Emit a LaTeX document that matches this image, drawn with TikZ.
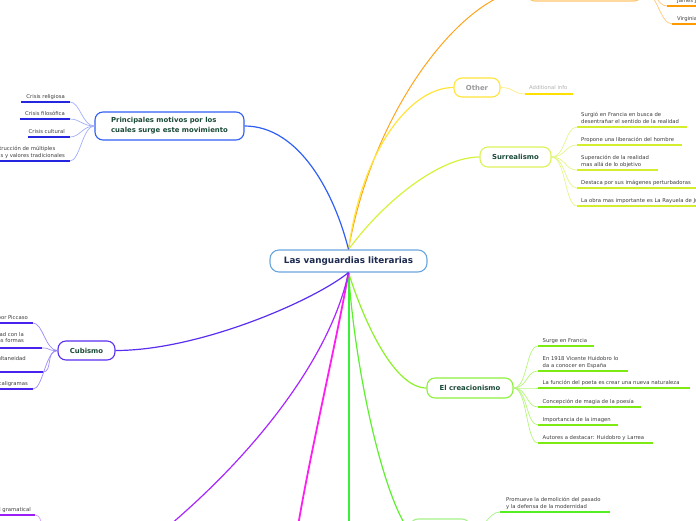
\documentclass[tikz,border=0pt]{standalone}
\usepackage{fontspec}
\setmainfont{DejaVu Sans}
\definecolor{rootc}{HTML}{6AA6DE}
\definecolor{titlec}{HTML}{1C2B4F}
\definecolor{branchtxt}{HTML}{1A4A38}
\definecolor{leaftxt}{HTML}{3C3C3C}
\definecolor{othertxt}{HTML}{9A9A9A}
\definecolor{addtxt}{HTML}{B0B0B0}
\definecolor{orL}{HTML}{FFA31A}
\definecolor{orBox}{HTML}{FFC56B}
\definecolor{orU}{HTML}{FF9A00}
\definecolor{orC}{HTML}{FFC878}
\definecolor{otY}{HTML}{FFE43A}
\definecolor{otU}{HTML}{FFE100}
\definecolor{otC}{HTML}{FFEC80}
\definecolor{suL}{HTML}{D6F23A}
\definecolor{suBox}{HTML}{DDF25A}
\definecolor{suU}{HTML}{D4EE2E}
\definecolor{suC}{HTML}{E4F58A}
\definecolor{crL}{HTML}{8CF02A}
\definecolor{crBox}{HTML}{8CF03C}
\definecolor{crU}{HTML}{7DEB12}
\definecolor{crC}{HTML}{B5F57A}
\definecolor{vgr}{HTML}{38F038}
\definecolor{fuL}{HTML}{5CF02E}
\definecolor{fuBox}{HTML}{A6F28A}
\definecolor{fuU}{HTML}{55EE22}
\definecolor{fuC}{HTML}{A6F28A}
\definecolor{mag}{HTML}{FF1EF0}
\definecolor{puL}{HTML}{A826FF}
\definecolor{puU}{HTML}{9A1EF5}
\definecolor{puC}{HTML}{D3A0FF}
\definecolor{cuL}{HTML}{5A2EF0}
\definecolor{cuU}{HTML}{4A22EE}
\definecolor{cuC}{HTML}{9C8CFA}
\definecolor{prL}{HTML}{2F5FF5}
\definecolor{prU}{HTML}{2626E0}
\definecolor{prC}{HTML}{A3B0FA}
\newcommand\leaffont{\fontsize{5.3}{6.6}\selectfont}
\newcommand\branchfont{\fontsize{6.9}{10}\selectfont\bfseries}
\newcommand\titlefont{\fontsize{8.8}{10}\selectfont\bfseries}
\tikzset{
  titlebox/.style={draw=rootc, line width=1.1pt, rounded corners=9pt, fill=white,
    minimum width=157pt, minimum height=22pt, inner sep=0pt, font=\titlefont, text=titlec},
  branchbox/.style={draw=#1, line width=1.1pt, rounded corners=8pt, fill=white,
    inner sep=0pt, font=\branchfont, text=branchtxt, align=center},
  br/.style={draw=#1, line width=1.2pt},
  ul/.style={draw=#1, line width=1.6pt},
  cn/.style={draw=#1, line width=0.7pt},
  leafR/.style={anchor=south west, align=left, text depth=0pt, inner sep=0pt,
    font=\leaffont, text=leaftxt},
  leafL/.style={anchor=south east, align=right, text depth=0pt, inner sep=0pt,
    font=\leaffont, text=leaftxt},
}
\begin{document}
\begin{tikzpicture}[x=1pt,y=-1pt]
\useasboundingbox (0,0) rectangle (696,520);
\clip (0,0) rectangle (696,520);

% ---------- nodes ----------
\node[titlebox] (root) at (348.5,261) {Las vanguardias literarias};
\node[branchbox=orBox, minimum width=115pt, minimum height=22pt] (orng) at (584.5,-10) {};
\node[branchbox=otY, minimum width=46pt, minimum height=19pt, text=othertxt] (other) at (477,87.5) {Other};
\node[branchbox=suBox, minimum width=71pt, minimum height=20pt] (surr) at (515.5,157) {Surrealismo};
\node[branchbox=crBox, minimum width=86pt, minimum height=20pt] (creac) at (470,388) {El creacionismo};
\node[branchbox=fuBox, minimum width=60pt, minimum height=24pt] (fut) at (440,531) {};
\node[branchbox=puC, minimum width=106pt, minimum height=22pt] (purp) at (102,537) {};
\node[branchbox=cuL, minimum width=57pt, minimum height=19pt] (cub) at (86.5,350.5) {Cubismo};
\node[branchbox=prL, minimum width=149pt, minimum height=28pt, align=left] (prin) at (169.5,126)
  {Principales motivos por los\\cuales surge este movimiento};
\coordinate (magend) at (295,545);
\coordinate (vgend) at (348.5,545);

% ---------- main branches ----------
\draw[br=orL, line width=1pt] (root.north) .. controls (375,100) and (470,-10) .. (orng.west);
\draw[br=otY] (root.north) .. controls (362,150) and (410,87.5) .. (other.west);
\draw[br=suL] (root.north) .. controls (385,200) and (440,157) .. (surr.west);
\draw[br=prL] (root.north) .. controls (335,195) and (300,126) .. (prin.east);
\draw[br=crL] (root.south) .. controls (365,325) and (395,388) .. (creac.west);
\draw[br=fuL] (root.south) .. controls (356,380) and (385,500) .. (fut.west);
\draw[br=vgr, line width=2pt] (root.south) -- (vgend);
\draw[br=mag, line width=1.8pt] (root.south) .. controls (337,340) and (306,470) .. (magend);
\draw[br=puL] (root.south) .. controls (330,360) and (250,460) .. (purp.east);
\draw[br=cuL] (root.south) .. controls (315,300) and (200,350.5) .. (cub.east);

% ---------- orange leaves ----------
\coordinate (o1a) at (667,6);  \coordinate (o1b) at (700,6);
\coordinate (o2a) at (672,24); \coordinate (o2b) at (700,24);
\draw[cn=orC] (orng.east) .. controls +(14,0) and +(-10,0) .. (o1a);
\draw[cn=orC] (orng.east) .. controls +(14,0) and +(-12,0) .. (o2a);
\draw[ul=orU] (o1a) -- (o1b);
\draw[ul=orU] (o2a) -- (o2b);
\node[leafR] (o1) at (677,2.5) {James Joyce};
\node[leafR] (o2) at (677,20.5) {Virginia Woolf};

% ---------- other ----------
\coordinate (ad1a) at (525,94); \coordinate (ad1b) at (573,94);
\draw[cn=otC] (other.east) .. controls +(14,0) and +(-12,0) .. (ad1a);
\draw[ul=otU] (ad1a) -- (ad1b);
\node[leafR, text=addtxt] (ad1) at (529,90) {Additional info};

% ---------- surrealismo leaves ----------
\coordinate (s1a) at (577,127); \coordinate (s1b) at (687,127);
\coordinate (s2a) at (577,145); \coordinate (s2b) at (682,145);
\coordinate (s3a) at (577,170); \coordinate (s3b) at (658,170);
\coordinate (s4a) at (577,188); \coordinate (s4b) at (700,188);
\coordinate (s5a) at (577,206); \coordinate (s5b) at (700,206);
\foreach \k in {1,...,5}{
  \draw[cn=suC] (surr.east) .. controls +(14,0) and +(-12,0) .. (s\k a);
  \draw[ul=suU] (s\k a) -- (s\k b);
}
\node[leafR] (s1) at (581,123.5) {Surgió en Francia en busca de\\desentrañar el sentido de la realidad};
\node[leafR] (s2) at (581,141.5) {Propone una liberación del hombre};
\node[leafR] (s3) at (581,166.5) {Superación de la realidad\\mas allá de lo objetivo};
\node[leafR] (s4) at (581,184.5) {Destaca por sus imágenes perturbadoras};
\node[leafR] (s5) at (581,202.5) {La obra mas importante es La Rayuela de Julio Cortázar};

% ---------- creacionismo leaves ----------
\coordinate (c1a) at (538,346); \coordinate (c1b) at (594,346);
\coordinate (c2a) at (538,371); \coordinate (c2b) at (628,371);
\coordinate (c3a) at (538,388); \coordinate (c3b) at (690,388);
\coordinate (c4a) at (538,407); \coordinate (c4b) at (641,407);
\coordinate (c5a) at (538,425); \coordinate (c5b) at (618,425);
\coordinate (c6a) at (538,443); \coordinate (c6b) at (653,443);
\foreach \k in {1,...,6}{
  \draw[cn=crC] (creac.east) .. controls +(14,0) and +(-12,0) .. (c\k a);
  \draw[ul=crU] (c\k a) -- (c\k b);
}
\node[leafR] (c1) at (542.5,342.5) {Surge en Francia};
\node[leafR] (c2) at (542.5,367.5) {En 1918 Vicente Huidobro lo\\da a conocer en España};
\node[leafR] (c3) at (542.5,384.5) {La función del poeta es crear una nueva naturaleza};
\node[leafR] (c4) at (542.5,403.5) {Concepción de magia de la poesía};
\node[leafR] (c5) at (542.5,421.5) {Importancia de la imagen};
\node[leafR] (c6) at (542.5,439.5) {Autores a destacar: Huidobro y Larrea};

% ---------- futurismo leaf ----------
\coordinate (f1a) at (500,512); \coordinate (f1b) at (610,512);
\draw[cn=fuC] (fut.east) .. controls +(14,0) and +(-12,0) .. (f1a);
\draw[ul=fuU] (f1a) -- (f1b);
\node[leafR] (f1) at (506,508.5) {Promueve la demolición del pasado\\y la defensa de la modernidad};

% ---------- purple leaf ----------
\coordinate (p1a) at (-10,515); \coordinate (p1b) at (35,515);
\draw[cn=puC] (purp.west) .. controls +(-10,0) and +(10,0) .. (p1b);
\draw[ul=puU] (p1a) -- (p1b);
\node[leafL] (p1) at (31,511.5) {Libertad gramatical};

% ---------- cubismo leaves ----------
\coordinate (k1a) at (-10,323); \coordinate (k1b) at (33,323);
\coordinate (k2a) at (-10,348); \coordinate (k2b) at (42,348);
\coordinate (k3a) at (-10,372); \coordinate (k3b) at (43,372);
\coordinate (k4a) at (-10,389); \coordinate (k4b) at (33,389);
\foreach \k in {1,...,4}{
  \draw[cn=cuC] (cub.west) .. controls +(-12,0) and +(10,0) .. (k\k b);
  \draw[ul=cuU] (k\k a) -- (k\k b);
}
\node[leafL] (k1) at (28,319.5) {Creado por Piccaso};
\node[leafL] (k2) at (24,343) {Rompe con la realidad con la\\creación de nuevas formas};
\node[leafL] (k3) at (26,361) {Simultaneidad};
\node[leafL] (k4) at (28,385.5) {Apollinaire y sus caligramas};

% ---------- principales leaves ----------
\coordinate (m1a) at (21,102); \coordinate (m1b) at (70,102);
\coordinate (m2a) at (20,119); \coordinate (m2b) at (70,119);
\coordinate (m3a) at (28,137); \coordinate (m3b) at (70,137);
\coordinate (m4a) at (-10,161); \coordinate (m4b) at (70,161);
\foreach \k in {1,...,4}{
  \draw[cn=prC] (prin.west) .. controls +(-12,0) and +(10,0) .. (m\k b);
  \draw[ul=prU] (m\k a) -- (m\k b);
}
\node[leafL] (m1) at (65,98.5) {Crisis religiosa};
\node[leafL] (m2) at (65,115.5) {Crisis filosófica};
\node[leafL] (m3) at (65,133.5) {Crisis cultural};
\node[anchor=south east, align=left, text depth=0pt, inner sep=0pt, font=\leaffont, text=leaftxt]
  (m4) at (65,157.5) {Destrucción de múltiples\\ideas y valores tradicionales};
\end{tikzpicture}
\end{document}
